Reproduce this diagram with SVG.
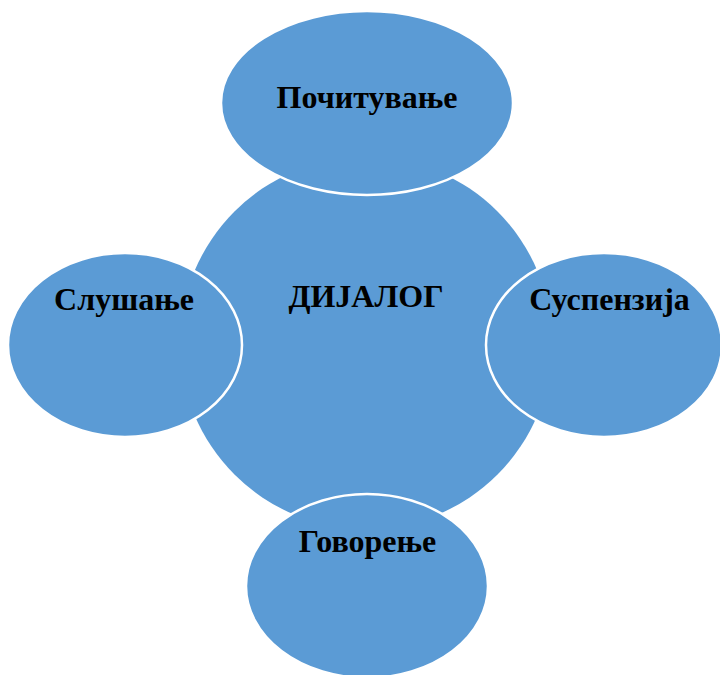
<svg xmlns="http://www.w3.org/2000/svg" width="720" height="675" viewBox="0 0 720 675">
<style>
.c{fill:#5B9BD5;}
.e{fill:#5B9BD5;stroke:#FFFFFF;stroke-width:2.5;}
.t{font-family:"Liberation Serif","Times New Roman",serif;font-weight:bold;font-size:32px;fill:#000;text-anchor:middle;}
</style>
<rect width="720" height="675" fill="#FFFFFF"/>
<g id="connectors"></g>
<g id="center">
<circle class="c" cx="366" cy="343" r="186"/>
<text class="t" x="366" y="307">ДИЈАЛОГ</text>
</g>
<g id="top">
<ellipse class="e" cx="367" cy="103" rx="146" ry="92"/>
<text class="t" x="367" y="108">Почитување</text>
</g>
<g id="left">
<ellipse class="e" cx="125" cy="345" rx="117" ry="92"/>
<text class="t" x="124" y="310">Слушање</text>
</g>
<g id="right">
<ellipse class="e" cx="604" cy="345" rx="118" ry="92"/>
<text class="t" x="609.5" y="310">Суспензија</text>
</g>
<g id="bottom">
<ellipse class="e" cx="367" cy="586" rx="121" ry="92"/>
<text class="t" x="367.5" y="552">Говорење</text>
</g>
</svg>
